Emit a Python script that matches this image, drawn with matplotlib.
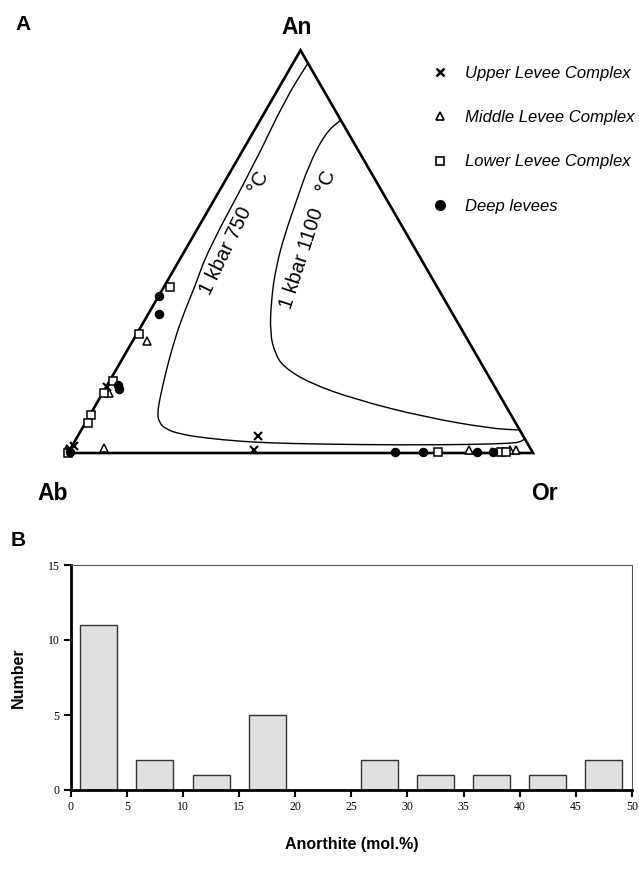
import numpy as np
import matplotlib
matplotlib.use('Agg')
import matplotlib.pyplot as plt
from matplotlib.lines import Line2D
from matplotlib.path import Path
from matplotlib.patches import PathPatch

plt.rcParams['font.family'] = ['Liberation Sans', 'DejaVu Sans']

# ── Ternary data (An %, Or %) ───────────────────────────────────────────────
upper_an = [16.5, 1.7, 1.0, 0.5, 4.2, 0.7, 0.3]
upper_or = [0.2, 0.4, 0.0, 0.0, 38.8, 39.6, 91.6]

middle_an = [27.9, 14.9, 1.2, 0.8, 0.8, 0.8]
middle_or = [3.0, 1.4, 7.1, 85.8, 94.6, 95.9]

lower_an = [41.3, 29.5, 18.0, 14.8, 9.4, 7.5, 0.0, 0.2, 0.2, 0.2]
lower_or = [1.3, 0.5, 0.7, 0.3, 0.2, 0.5, 0.0, 79.4, 93.1, 94.0]

deep_an = [39.1, 34.4, 16.9, 15.8, 0.3, 0.3, 0.3, 0.3, 0.3]
deep_or = [0.0, 2.3, 2.4, 3.1, 0.3, 70.2, 76.3, 87.7, 91.2]

# 1 kbar isotherms (solvus), An % / Or %
iso750_an = [96.8, 87.7, 72.0, 50.4, 41.5, 33.0, 25.6, 19.4, 13.2, 9.9, 7.7,
             6.0, 4.7, 3.7, 2.9, 2.5, 2.2, 2.0, 2.1, 2.4, 2.7, 3.5]
iso750_or = [3.2, 2.8, 4.2, 4.9, 6.6, 7.8, 9.5, 11.2, 13.1, 14.3, 15.7,
             17.9, 21.7, 27.8, 35.6, 42.2, 53.1, 70.4, 85.4, 93.9, 95.8, 96.5]
iso1100_an = [82.7, 79.4, 71.1, 62.8, 54.6, 46.3, 38.0, 29.7, 24.8, 21.4,
              17.3, 13.2, 9.0, 6.1, 5.7]
iso1100_or = [17.3, 15.6, 16.1, 17.8, 19.4, 21.6, 24.7, 28.6, 32.1, 35.6,
              43.4, 55.5, 71.9, 87.7, 94.3]

# ── Histogram data ──────────────────────────────────────────────────────────
bin_centers = [2.5, 7.5, 12.5, 17.5, 22.5, 27.5, 32.5, 37.5, 42.5, 47.5]
counts = [11, 2, 1, 5, 0, 2, 1, 1, 1, 2]


def tern(an, orr):
    an = np.asarray(an, float) / 100.0
    orr = np.asarray(orr, float) / 100.0
    return orr + an / 2.0, an * np.sqrt(3) / 2.0


def smooth_path(xs, ys):
    # quadratic Bezier through midpoints, read points used as control points
    pts = np.column_stack([xs, ys])
    verts = [pts[0], (pts[0] + pts[1]) / 2]
    codes = [Path.MOVETO, Path.LINETO]
    for i in range(1, len(pts) - 1):
        verts += [pts[i], (pts[i] + pts[i + 1]) / 2]
        codes += [Path.CURVE3, Path.CURVE3]
    verts.append(pts[-1])
    codes.append(Path.LINETO)
    return Path(verts, codes)


W, H = 639, 877
fig = plt.figure(figsize=(W / 100, H / 100), dpi=100)


def fx(px):
    return px / W


def fy(py):
    return 1 - py / H


# ═══ Panel A — ternary diagram ═════════════════════════════════════════════
tax = fig.add_axes([0, fy(520), 1, 520 / H])
tax.axis('off')
tax.set_xlim(-68 / 465, (W - 68) / 465)
tax.set_ylim(-67 / 465, 453 / 465)

tx, ty = tern([0, 0, 100, 0], [0, 100, 0, 0])
tax.plot(tx, ty, color='black', lw=1.9, solid_joinstyle='miter', zorder=2)

for a, o in [(iso750_an, iso750_or), (iso1100_an, iso1100_or)]:
    cx, cy = tern(a, o)
    tax.add_patch(PathPatch(smooth_path(cx, cy), fill=False,
                            edgecolor='black', lw=1.0, zorder=1))

mk = dict(ls='none', color='black', zorder=3)
x, y = tern(upper_an, upper_or)
tax.plot(x, y, marker='x', ms=5.5, mew=1.5, **mk)
x, y = tern(middle_an, middle_or)
tax.plot(x, y, marker='^', ms=5.5, mew=1.1, mfc='white', **mk)
x, y = tern(lower_an, lower_or)
tax.plot(x, y, marker='s', ms=5.5, mew=1.1, mfc='white', **mk)
x, y = tern(deep_an, deep_or)
tax.plot(x, y, marker='o', ms=6.0, mew=0.8, **mk)

fig.text(fx(235), fy(233), '1 kbar 750   °C', rotation=64, fontsize=14.5,
         ha='center', va='center', rotation_mode='anchor')
fig.text(fx(308), fy(240), '1 kbar 1100   °C', rotation=72, fontsize=14.5,
         ha='center', va='center', rotation_mode='anchor')

fig.text(fx(297), fy(28), 'An', fontsize=16.5, fontweight='bold',
         ha='center', va='center')
fig.text(fx(53), fy(493), 'Ab', fontsize=16.5, fontweight='bold',
         ha='center', va='center')
fig.text(fx(544), fy(493), 'Or', fontsize=16.5, fontweight='bold',
         ha='center', va='center')
fig.text(fx(23), fy(25), 'A', fontsize=15, fontweight='bold',
         ha='center', va='center')
fig.text(fx(18), fy(541), 'B', fontsize=15, fontweight='bold',
         ha='center', va='center')

handles = [
    Line2D([], [], marker='x', ls='none', color='black', ms=6, mew=1.8),
    Line2D([], [], marker='^', ls='none', color='black', mfc='white', ms=6, mew=1.2),
    Line2D([], [], marker='s', ls='none', color='black', mfc='white', ms=6, mew=1.2),
    Line2D([], [], marker='o', ls='none', color='black', ms=7),
]
labels = ['Upper Levee Complex', 'Middle Levee Complex',
          'Lower Levee Complex', 'Deep levees']
fig.legend(handles, labels, loc='upper left',
           bbox_to_anchor=(fx(432), fy(66)), frameon=False,
           prop=dict(family='Liberation Sans', style='italic', size=12),
           handlelength=1.0, handletextpad=1.0, labelspacing=1.75,
           borderpad=0, borderaxespad=0)

# ═══ Panel B — histogram of anorthite content ══════════════════════════════
hax = fig.add_axes([fx(70.7), fy(790), (632 - 70.7) / W, 225 / H])
hax.bar(bin_centers, counts, width=3.3, color='#e0e0e0',
        edgecolor='#333333', linewidth=1.0, zorder=2)
hax.set_xlim(0, 50)
hax.set_ylim(0, 15)
hax.set_xticks(np.arange(0, 51, 5))
hax.set_yticks([0, 5, 10, 15])
for side in ['left', 'bottom']:
    hax.spines[side].set_linewidth(2.0)
for side in ['top', 'right']:
    hax.spines[side].set_linewidth(0.8)
    hax.spines[side].set_color('#555555')
hax.tick_params(direction='out', length=5, width=1.5, labelsize=8.5, pad=3)
for lab in hax.get_xticklabels() + hax.get_yticklabels():
    lab.set_fontfamily('Liberation Serif')

hax.set_ylabel('Number', fontsize=11.5, fontweight='bold')
hax.set_xlabel('Anorthite (mol.%)', fontsize=11.5, fontweight='bold')
hax.yaxis.set_label_coords((26 - 70.7) / 561.3, 0.5)
hax.xaxis.set_label_coords(0.5, (790 - 837) / 225)

fig.savefig('out.png', dpi=100)
